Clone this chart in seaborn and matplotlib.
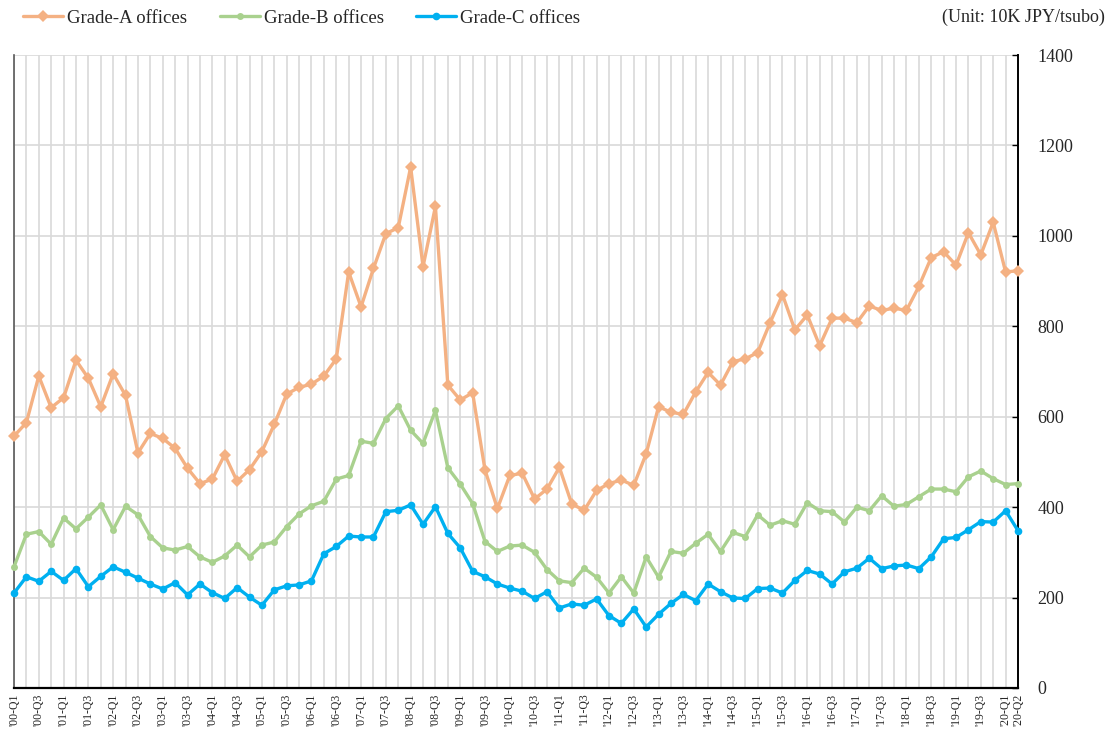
import numpy as np
import pandas as pd
import matplotlib
matplotlib.use("Agg")
import matplotlib.pyplot as plt
import seaborn as sns

# quarters '00-Q1 .. '20-Q2
quarters = [f"'{y:02d}-Q{q}" for y in range(0, 21) for q in range(1, 5)][:82]

grade_a = [557, 587, 690, 620, 642, 725, 685, 622, 695, 647,
           520, 563, 552, 530, 486, 452, 462, 516, 457, 483,
           523, 583, 650, 665, 672, 690, 728, 920, 843, 928,
           1005, 1018, 1152, 932, 1065, 670, 637, 653, 482, 397,
           470, 475, 418, 440, 488, 407, 393, 437, 452, 460,
           448, 518, 622, 610, 605, 655, 698, 670, 722, 728,
           742, 808, 870, 792, 825, 757, 818, 818, 808, 845,
           835, 840, 835, 888, 952, 965, 935, 1007, 958, 1030,
           920, 923]

grade_b = [268, 340, 346, 318, 376, 352, 378, 405, 350, 402,
           383, 335, 310, 305, 313, 290, 278, 292, 316, 290,
           316, 323, 357, 385, 403, 413, 462, 470, 546, 541,
           596, 624, 570, 541, 614, 487, 451, 408, 324, 302,
           314, 316, 300, 262, 237, 233, 265, 245, 210, 246,
           210, 290, 245, 302, 298, 320, 340, 302, 344, 335,
           383, 360, 370, 362, 410, 392, 390, 367, 400, 392,
           425, 402, 406, 423, 440, 440, 434, 467, 480, 463,
           450, 452]

grade_c = [210, 246, 236, 258, 238, 264, 224, 247, 268, 256,
           243, 230, 219, 233, 206, 230, 211, 198, 222, 201,
           183, 217, 226, 228, 237, 297, 313, 336, 334, 334,
           390, 393, 405, 362, 401, 342, 310, 258, 246, 230,
           221, 214, 198, 213, 177, 186, 183, 197, 160, 143,
           175, 135, 163, 187, 207, 193, 230, 213, 199, 198,
           220, 221, 210, 238, 260, 252, 230, 257, 265, 287,
           264, 270, 272, 264, 290, 330, 333, 350, 368, 367,
           392, 348]

series_names = ["Grade-A offices", "Grade-B offices", "Grade-C offices"]
series_values = [grade_a, grade_b, grade_c]
colors = ["#F4B183", "#A9D18E", "#00B0F0"]
markers = ["D", "o", "o"]
msizes = [6, 5, 5.5]

sns.set_style("white")
plt.rcParams['font.family'] = ['Liberation Serif', 'DejaVu Serif']

fig = plt.figure(figsize=(11.13, 7.33), dpi=100)
ax = fig.add_axes([14 / 1113, 1 - 688 / 733, (1018 - 14) / 1113, (688 - 55) / 733])

idx = np.arange(len(quarters))
for name, vals, c, m, ms in zip(series_names, series_values, colors, markers, msizes):
    df = pd.DataFrame({"idx": idx, "value": vals})
    sns.lineplot(data=df, x="idx", y="value", ax=ax, color=c, lw=2.4,
                 marker=m, markersize=ms, markeredgewidth=0, label=name,
                 clip_on=False, zorder=3)

ax.set_xlim(0, len(quarters) - 1)
ax.set_ylim(0, 1400)
ax.set_yticks(range(0, 1401, 200))
ax.yaxis.tick_right()
ax.tick_params(axis="y", which="both", direction="in", length=4, width=1,
               color="black", labelsize=13, pad=14)
ax.set_xticks(idx)
labels = [q if (i % 2 == 0 or i == len(quarters) - 1) else "" for i, q in enumerate(quarters)]
ax.set_xticklabels(labels, rotation=90, fontsize=8.5)
ax.tick_params(axis="x", direction="in", length=3, width=1, color="black", pad=4)
ax.set_xlabel("")
ax.set_ylabel("")

ax.grid(True, axis="both", color="#d9d9d9", lw=1.2)
ax.set_axisbelow(True)
ax.spines["top"].set_visible(False)
ax.spines["left"].set_color("#595959")
ax.spines["left"].set_linewidth(1.2)
ax.spines["bottom"].set_color("black")
ax.spines["bottom"].set_linewidth(1.6)
ax.spines["right"].set_color("black")
ax.spines["right"].set_linewidth(1.4)

leg = ax.legend(loc="lower left", bbox_to_anchor=(9 / 1004, 1.045), ncol=3, frameon=False,
                fontsize=13.5, handlelength=2.13, columnspacing=1.75, handletextpad=0.21,
                borderaxespad=0, borderpad=0)
fig.text(1105 / 1113, 1 - 17 / 733, "(Unit: 10K JPY/tsubo)", ha="right", va="center",
         fontsize=13)

fig.savefig("out.png", dpi=100)
